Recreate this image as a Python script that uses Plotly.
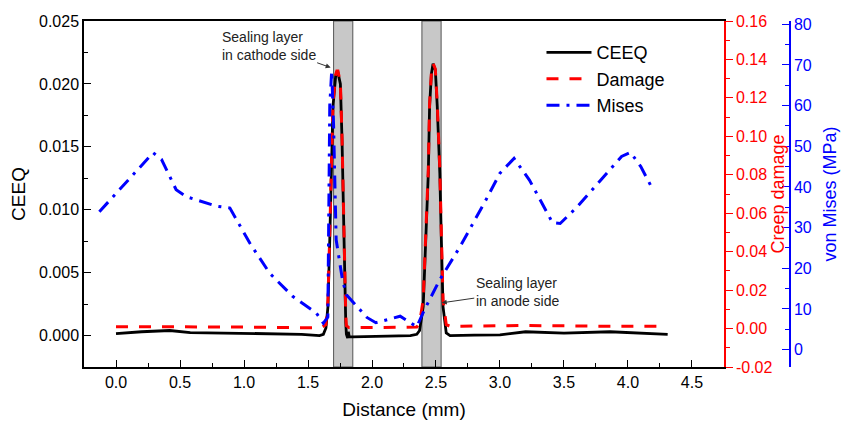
import plotly.graph_objects as go

# ---------------- data ----------------
dist_ceeq = [0.0, 0.2, 0.42, 0.58, 0.84, 1.05, 1.23, 1.45, 1.59, 1.62, 1.64, 1.656, 1.67, 1.683,
             1.695, 1.716, 1.725, 1.734, 1.753, 1.766, 1.78, 1.795, 1.80, 1.81, 1.815, 1.822,
             1.85, 2.0, 2.15, 2.3, 2.35, 2.372, 2.40, 2.42, 2.44, 2.45, 2.464, 2.477, 2.495,
             2.51, 2.53, 2.542, 2.555, 2.58, 2.61, 2.8, 3.0, 3.2, 3.5, 3.86, 4.1, 4.31]
ceeq = [0.00015, 0.0003, 0.0004, 0.00024, 0.0002, 0.00018, 0.00013, 0.0001, 0.0, 0.0001, 0.0006,
        0.0023, 0.0076, 0.0129, 0.0182, 0.0206, 0.0209, 0.0209, 0.0200, 0.0155, 0.0076, 0.0010,
        0.0001, -0.0002, 0.0003, -0.0001, -0.0001, -0.00005, -0.00005, 0.0, 0.0001, 0.0004,
        0.0023, 0.0076, 0.0129, 0.0182, 0.0208, 0.0216, 0.0211, 0.0182, 0.0129, 0.0076, 0.0023,
        0.0002, 0.0, 0.00003, 0.00005, 0.0003, 0.0002, 0.0003, 0.0002, 0.0001]

dist_damage = [0.0, 0.5, 1.0, 1.3, 1.55, 1.60, 1.64, 1.656, 1.67, 1.683, 1.695, 1.716, 1.725,
               1.734, 1.753, 1.766, 1.78, 1.795, 1.80, 1.82, 2.0, 2.3, 2.35, 2.372, 2.40, 2.42,
               2.44, 2.45, 2.464, 2.477, 2.495, 2.51, 2.53, 2.542, 2.555, 2.58, 2.61, 2.7, 3.2,
               3.8, 4.3]
damage = [0.001, 0.001, 0.0008, 0.0005, 0.0003, 0.0004, 0.002, 0.015, 0.049, 0.083, 0.117, 0.132,
          0.134, 0.134, 0.128, 0.099, 0.049, 0.007, 0.0015, 0.0005, 0.0005, 0.0005, 0.0008, 0.003,
          0.015, 0.049, 0.083, 0.117, 0.133, 0.138, 0.135, 0.117, 0.083, 0.049, 0.015, 0.002,
          0.0012, 0.0012, 0.0016, 0.0012, 0.0012]

dist_mises = [-0.13, 0.29, 0.355, 0.47, 0.55, 0.78, 0.89, 1.045, 1.20, 1.38, 1.565, 1.62, 1.655,
              1.67, 1.685, 1.70, 1.72, 1.77, 1.80, 1.96, 2.03, 2.22, 2.35, 2.41, 2.53, 2.69, 2.89,
              3.0, 3.11, 3.23, 3.41, 3.47, 3.6, 3.8, 3.95, 4.02, 4.1, 4.2]
mises = [33.9, 48.4, 46.8, 39.3, 37.6, 35.3, 34.8, 26.2, 18.8, 13.1, 9.0, 6.5, 8.0, 60.0, 68.5,
         55.0, 27.0, 17.0, 13.5, 7.9, 6.6, 8.2, 5.6, 9.8, 17.2, 25.4, 36.8, 43.4, 47.0, 41.7,
         31.2, 31.0, 35.0, 42.0, 47.5, 48.5, 45.0, 39.0]

sealing_layers = [(1.70, 1.85), (2.39, 2.54)]

ceeq_ticks = [0.0, 0.005, 0.010, 0.015, 0.020, 0.025]
damage_ticks = [-0.02, 0.0, 0.02, 0.04, 0.06, 0.08, 0.10, 0.12, 0.14, 0.16]
damage_labels = ["-0.02", "0.00", "0.02", "0.04", "0.06", "0.08", "0.10", "0.12", "0.14", "0.16"]

FONT = "Arial, Liberation Sans, sans-serif"

fig = go.Figure()
fig.add_trace(go.Scatter(x=dist_ceeq, y=ceeq, name="CEEQ", mode="lines",
                         line=dict(color="black", width=2.8), yaxis="y"))
fig.add_trace(go.Scatter(x=dist_damage, y=damage, name="Damage", mode="lines",
                         line=dict(color="#ff0000", width=3, dash="12px,11px"), yaxis="y2"))
fig.add_trace(go.Scatter(x=dist_mises, y=mises, name="Mises", mode="lines",
                         line=dict(color="#0000ff", width=3, dash="13px,7px,3px,7px"), yaxis="y3"))

for x0, x1 in sealing_layers:
    fig.add_shape(type="rect", xref="x", yref="paper", x0=x0, x1=x1, y0=0, y1=1,
                  fillcolor="#c8c8c8", line=dict(color="#555555", width=1), layer="below")

fig.add_annotation(x=1.677, y=0.0213, xref="x", yref="y", text="Sealing layer<br>in cathode side",
                   showarrow=True, ax=-62, ay=-22, arrowhead=2, arrowsize=1, arrowwidth=1,
                   arrowcolor="#333333", align="left", font=dict(family=FONT, size=14, color="#222"))
fig.add_annotation(x=2.545, y=0.0026, xref="x", yref="y", text="Sealing layer<br>in anode side",
                   showarrow=True, ax=76, ay=-11, arrowhead=2, arrowsize=1, arrowwidth=1,
                   arrowcolor="#333333", align="left", font=dict(family=FONT, size=14, color="#222"))

fig.update_layout(
    width=842, height=426,
    margin=dict(l=84, r=52, t=21, b=59, autoexpand=False),
    paper_bgcolor="white", plot_bgcolor="white",
    font=dict(family=FONT, size=16, color="black"),
    showlegend=True,
    legend=dict(x=0.648, y=0.962, xanchor="left", yanchor="top", bgcolor="rgba(0,0,0,0)",
                font=dict(size=18), tracegroupgap=0, itemwidth=45),
    xaxis=dict(domain=[0, 0.9065], range=[-0.25, 4.75], tick0=0, dtick=0.5, tickformat=".1f",
               ticks="inside", ticklen=7, tickwidth=1.2, tickcolor="black", automargin=False,
               showline=True, linecolor="black", linewidth=1.5, mirror=True,
               showgrid=False, zeroline=False,
               minor=dict(dtick=0.25, tick0=0, ticks="inside", ticklen=4, tickcolor="black"),
               title=dict(text="Distance (mm)", font=dict(size=19), standoff=13)),
    yaxis=dict(range=[-0.0025, 0.025], tickvals=ceeq_ticks, tickformat=".3f", automargin=False,
               ticks="inside", ticklen=7, tickwidth=1.2, tickcolor="black",
               showline=True, linecolor="black", linewidth=1.5,
               showgrid=False, zeroline=False,
               minor=dict(dtick=0.0025, tick0=0, ticks="inside", ticklen=4, tickcolor="black"),
               title=dict(text="CEEQ", font=dict(size=19), standoff=8)),
    yaxis2=dict(overlaying="y", side="right", anchor="x", range=[-0.02, 0.16], automargin=False,
                tickvals=damage_ticks, ticktext=damage_labels,
                ticks="outside", ticklen=7, tickwidth=1.2, tickcolor="#ff0000",
                tickfont=dict(color="#ff0000"),
                showline=True, linecolor="#ff0000", linewidth=1.5,
                showgrid=False, zeroline=False,
                minor=dict(dtick=0.01, tick0=0, ticks="outside", ticklen=4, tickcolor="#ff0000"),
                title=dict(text="Creep damage", font=dict(size=18, color="#ff0000"), standoff=0)),
    yaxis3=dict(overlaying="y", side="right", anchor="free", position=1.0, automargin=False,
                range=[-4.29, 80.81], tick0=0, dtick=10,
                ticks="inside", ticklen=7, tickwidth=1.2, tickcolor="#0000ff",
                tickfont=dict(color="#0000ff"),
                showline=True, linecolor="#0000ff", linewidth=1.5,
                showgrid=False, zeroline=False,
                minor=dict(dtick=5, tick0=0, ticks="inside", ticklen=4, tickcolor="#0000ff"),
                title=dict(text="von Mises (MPa)", font=dict(size=18, color="#0000ff"), standoff=12)),
)

fig.write_html("out.html", config={"displayModeBar": False},
               post_script="document.body.style.margin='0px';document.body.style.overflow='hidden';")
